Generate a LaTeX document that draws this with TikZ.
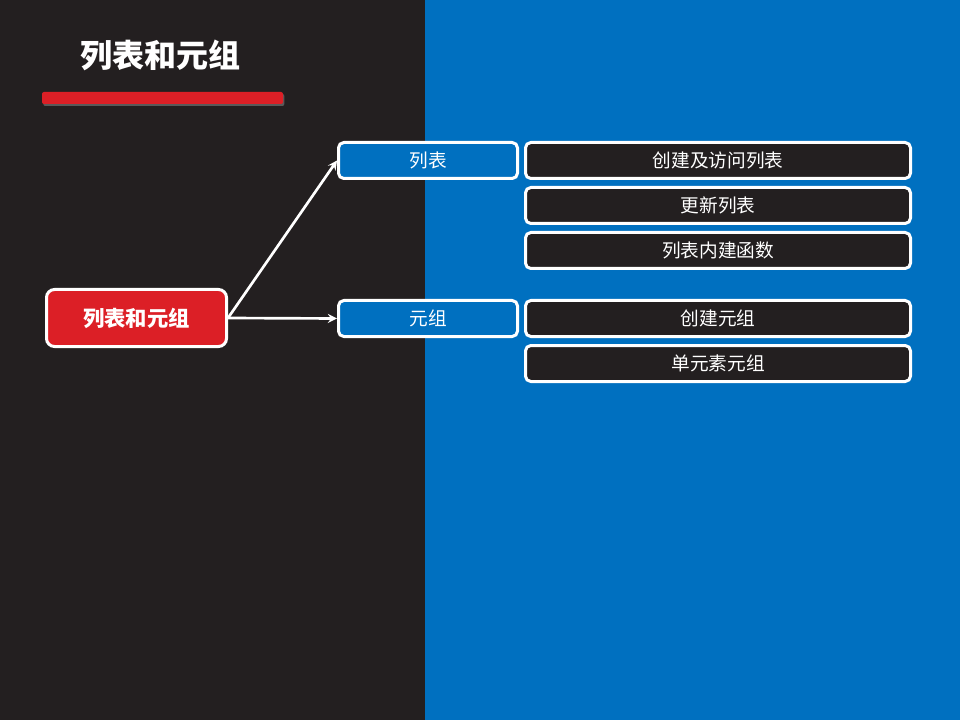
\documentclass[tikz,border=0pt]{standalone}
\usepackage{fontspec}
\setmainfont{Noto Sans CJK SC}
\usetikzlibrary{positioning, arrows, shadows}
\definecolor{slidedark}{HTML}{231F20}
\definecolor{slideblue}{HTML}{0070C0}
\definecolor{slidered}{HTML}{DC1F26}
\tikzset{
    >=stealth, % arrow heads for the connectors
    node distance=4.5pt, % gap between the stacked boxes
    topic/.style={draw=white, line width=2.25pt, rounded corners=6pt, fill=slidered, text=white,
        font=\bfseries\fontsize{16}{18}\selectfont, minimum width=135pt, minimum height=42.75pt, inner sep=0pt},
    branch/.style={draw=white, line width=2.25pt, rounded corners=4pt, fill=slideblue, text=white,
        font=\fontsize{14}{16}\selectfont, minimum width=134.25pt, minimum height=27pt, inner sep=0pt},
    leaf/.style={branch, fill=slidedark, minimum width=288.75pt}, % the boxes on the right
}
\begin{document}
\begin{tikzpicture}[x=0.75pt, y=-0.75pt]
% background halves
\fill[slidedark] (0,0) rectangle (425,720);
\fill[slideblue] (425,0) rectangle (960,720);
\useasboundingbox (0,0) rectangle (960,720);
% title and bar
\node[text=white, font=\bfseries\fontsize{24}{28}\selectfont] (title) at (160,55) {列表和元组};
\fill[slidered, rounded corners=1.5pt, drop shadow={shadow xshift=1pt, shadow yshift=-1.5pt, opacity=0.6}] (42,92) rectangle (283,104);
% tree
\node[topic]  (root)  at (136.5,318)  {列表和元组};
\node[branch] (list)  at (428,160.5)  {列表};
\node[branch] (tuple) at (428,318.5)  {元组};
\node[leaf, right=3.75pt of list]  (create) {创建及访问列表};
\node[leaf, below=of create]       (update) {更新列表};
\node[leaf, below=of update]       (builtin) {列表内建函数};
\node[leaf, right=3.75pt of tuple] (tcreate) {创建元组};
\node[leaf, below=of tcreate]      (single) {单元素元组};
\path[->, white, line width=2pt]
(root.east) edge (list.west)
(root.east) edge (tuple.west);
\end{tikzpicture}
\end{document}
